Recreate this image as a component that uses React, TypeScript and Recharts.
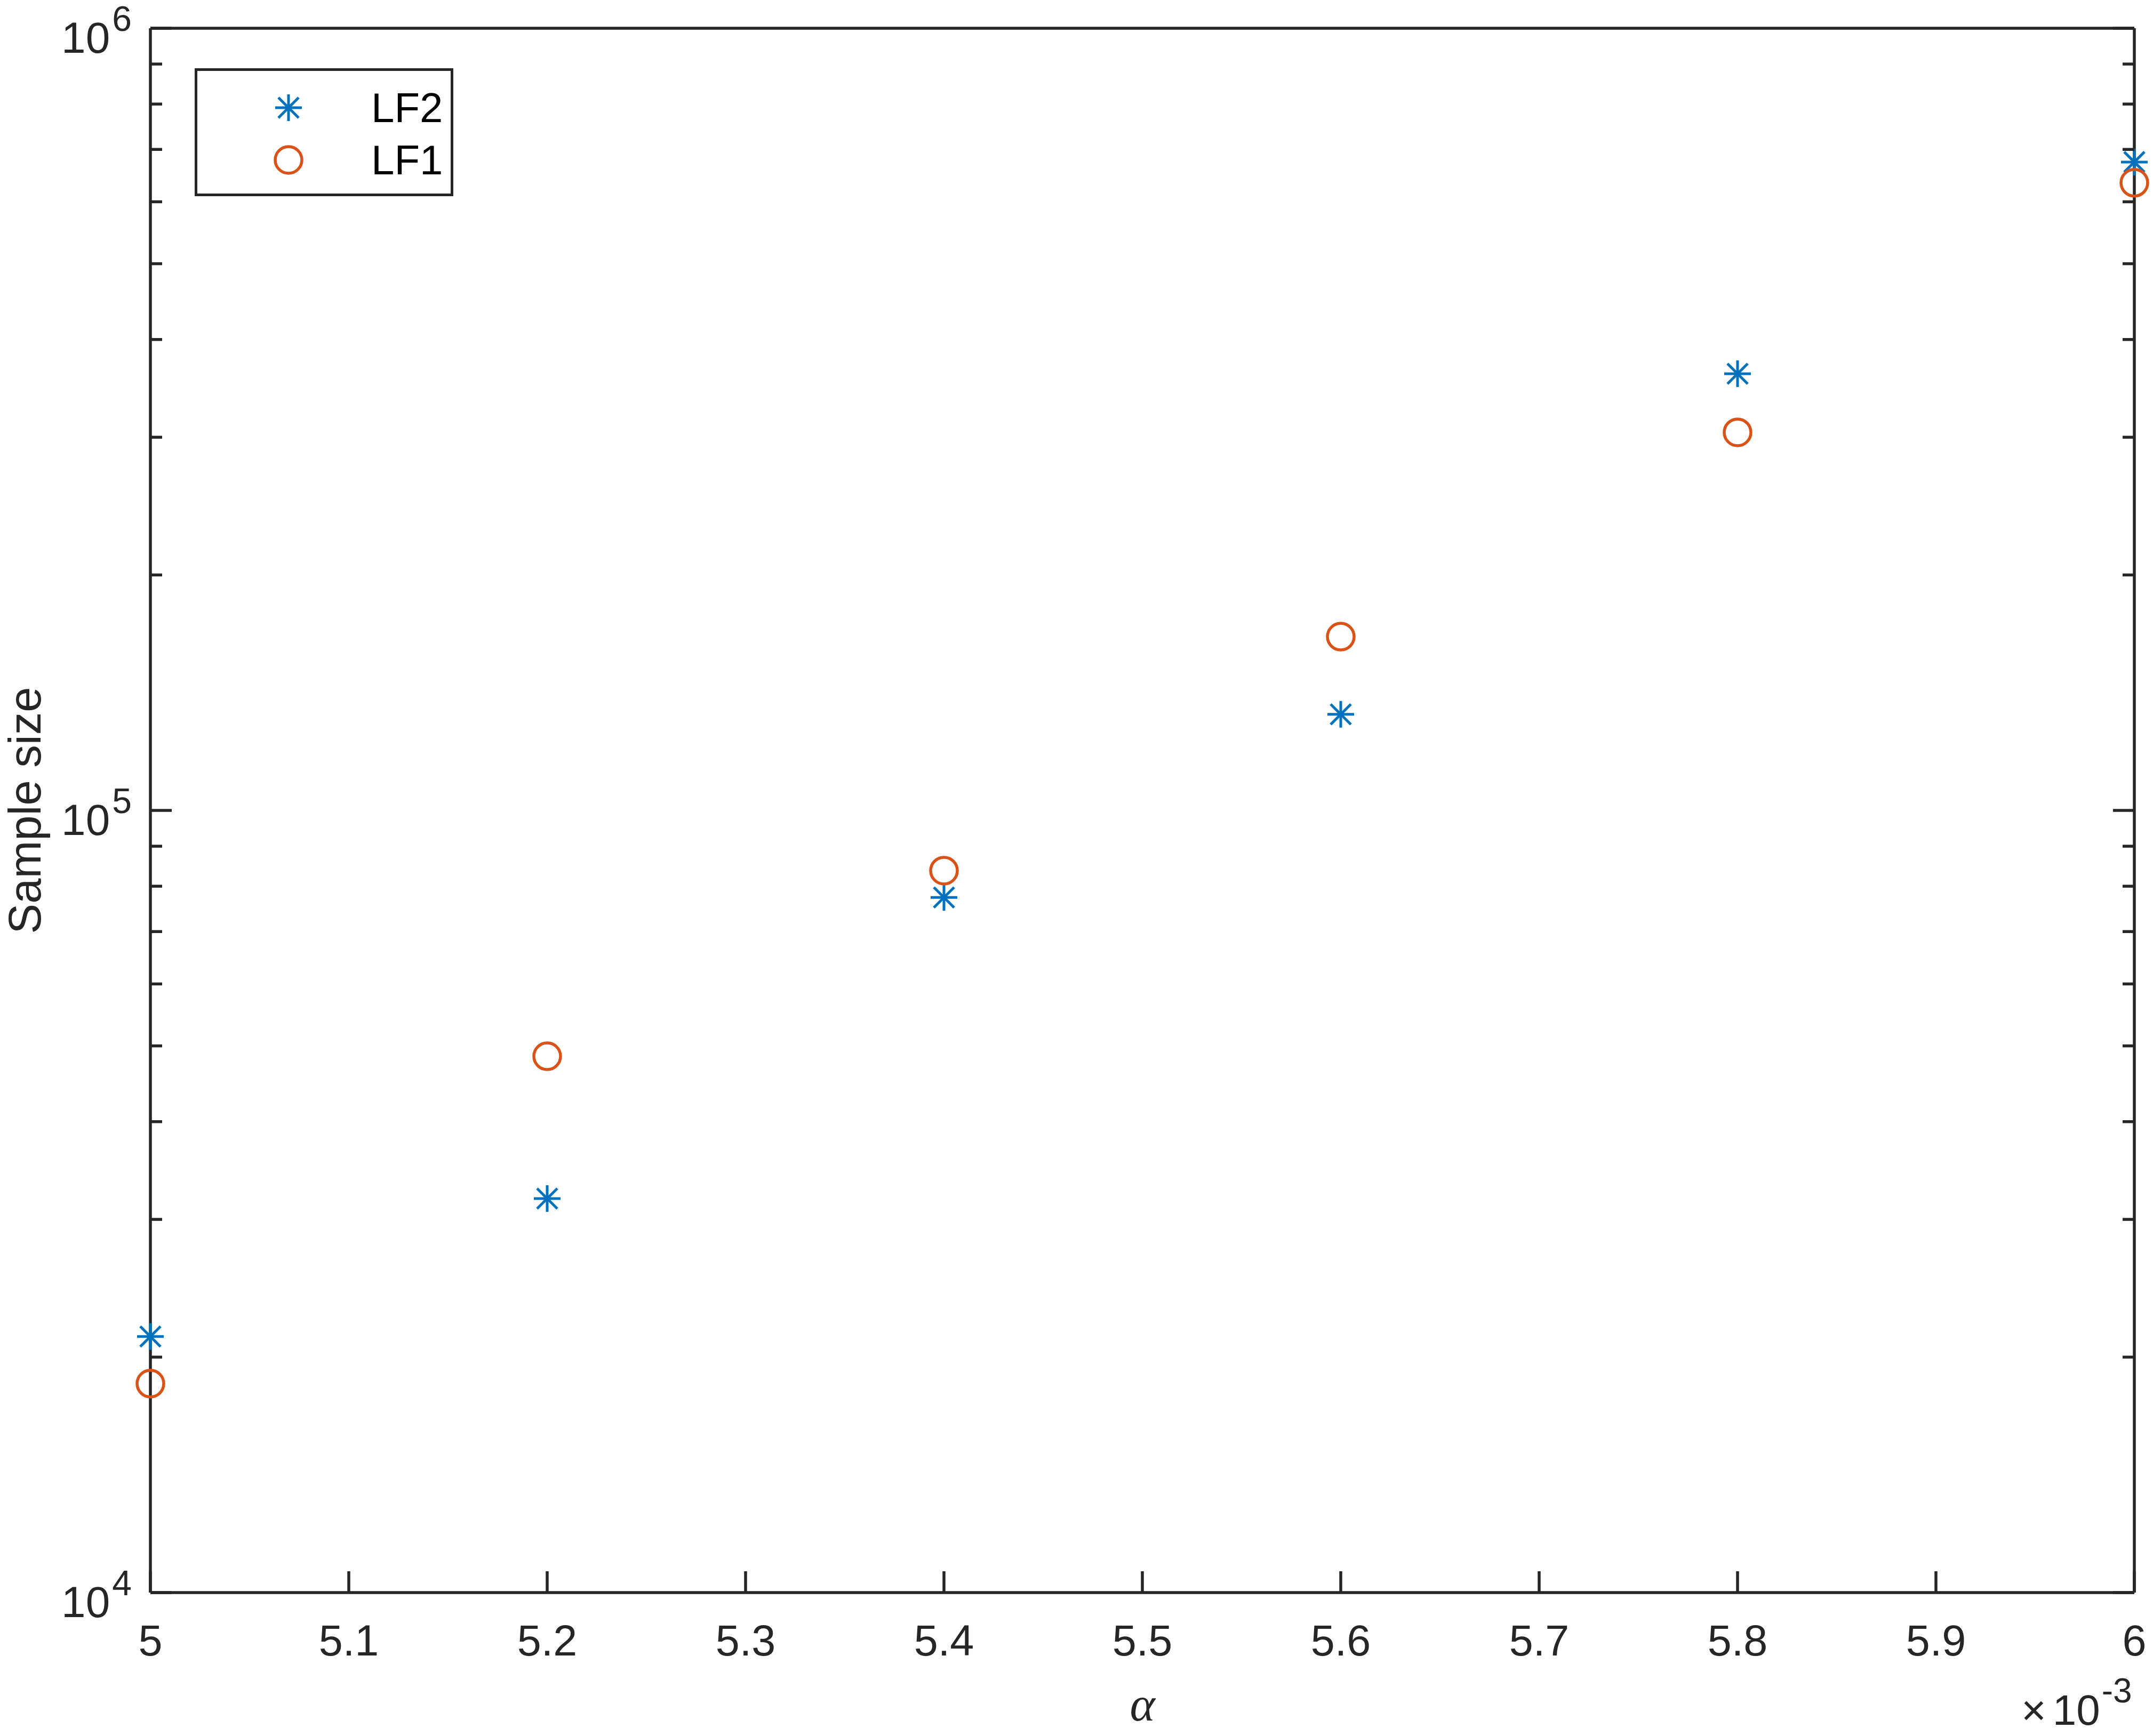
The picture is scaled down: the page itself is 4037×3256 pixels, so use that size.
import React from "react";
import { Label, Legend, Scatter, ScatterChart, XAxis, YAxis } from "recharts";

// alpha in units of 1e-3 (axis carries the ×10^-3 multiplier)
const ALPHA = [5.0, 5.2, 5.4, 5.6, 5.8, 6.0];
const LF2 = [21250, 31900, 77400, 132700, 361700, 674500];
const LF1 = [18500, 48500, 83750, 166800, 304300, 634500];
const SERIES_ORDER = ["LF2", "LF1"];

const X_TICKS = [5, 5.1, 5.2, 5.3, 5.4, 5.5, 5.6, 5.7, 5.8, 5.9, 6];
const Y_MAJOR = [1e4, 1e5, 1e6];
const Y_MINOR = [2e4, 3e4, 4e4, 5e4, 6e4, 7e4, 8e4, 9e4, 2e5, 3e5, 4e5, 5e5, 6e5, 7e5, 8e5, 9e5];
const Y_TICKS = [...Y_MAJOR, ...Y_MINOR].sort((a, b) => a - b);

const C = {
  lf2: "#0072BD",
  lf1: "#D95319",
  ink: "#262626",
};
const FONT = "'Liberation Sans', Arial, Helvetica, sans-serif";
const LW = 5.5;
const AXIS_LINE = { stroke: C.ink, strokeWidth: LW };
const MAJOR = 40;
const MINOR = 22;

const lf2Data = ALPHA.map((a, i) => ({ alpha: a, n: LF2[i] }));
const lf1Data = ALPHA.map((a, i) => ({ alpha: a, n: LF1[i] }));

const isMajor = (v: number) => Math.abs(Math.log10(v) - Math.round(Math.log10(v))) < 1e-9;
const fmtX = (v: number) => String(Number(v.toFixed(1)));

function BottomTick({ x, y, payload }: any) {
  return (
    <g>
      <line x1={x} x2={x} y1={y} y2={y - MAJOR} stroke={C.ink} strokeWidth={LW} />
      <text x={x} y={y + 118} textAnchor="middle" fontSize={81} fontFamily={FONT} fill={C.ink}>
        {fmtX(payload.value)}
      </text>
    </g>
  );
}

function TopTick({ x, y }: any) {
  return <line x1={x} x2={x} y1={y} y2={y + MAJOR} stroke={C.ink} strokeWidth={LW} />;
}

function LeftTick({ x, y, payload }: any) {
  const major = isMajor(payload.value);
  return (
    <g>
      <line x1={x} x2={x + (major ? MAJOR : MINOR)} y1={y} y2={y} stroke={C.ink} strokeWidth={LW} />
      {major && (
        <text x={x - 35} y={y + 46} textAnchor="end" fontSize={82} fontFamily={FONT} fill={C.ink}>
          10
          <tspan dx={4} dy={-41} fontSize={66}>
            {Math.round(Math.log10(payload.value))}
          </tspan>
        </text>
      )}
    </g>
  );
}

function RightTick({ x, y, payload }: any) {
  const len = isMajor(payload.value) ? MAJOR : MINOR;
  return <line x1={x} x2={x - len} y1={y} y2={y} stroke={C.ink} strokeWidth={LW} />;
}

function XLabel({ viewBox }: any) {
  const { x, y, width } = viewBox;
  return (
    <g fill={C.ink}>
      <text
        x={x + width / 2}
        y={y + 240}
        textAnchor="middle"
        fontSize={90}
        fontStyle="italic"
        fontFamily="'Liberation Serif', 'DejaVu Serif', serif"
      >
        α
      </text>
      <text x={x + width - 212} y={y + 248} fontSize={80} fontFamily={FONT}>
        ×
        <tspan dx={12}>10</tspan>
        <tspan dx={3} dy={-42} fontSize={64}>
          -3
        </tspan>
      </text>
    </g>
  );
}

function YLabel({ viewBox }: any) {
  const { x, y, height } = viewBox;
  const cx = x + 76;
  const cy = y + height / 2;
  return (
    <text
      x={cx}
      y={cy}
      transform={`rotate(-90 ${cx} ${cy})`}
      textAnchor="middle"
      fontSize={85}
      fontFamily={FONT}
      fill={C.ink}
    >
      Sample size
    </text>
  );
}

function StarMark({ cx, cy }: any) {
  return (
    <g stroke={C.lf2} strokeWidth={5}>
      <line x1={cx - 25} x2={cx + 25} y1={cy} y2={cy} />
      <line x1={cx} x2={cx} y1={cy - 25} y2={cy + 25} />
      <line x1={cx - 19} y1={cy - 19} x2={cx + 19} y2={cy + 19} />
      <line x1={cx - 19} y1={cy + 19} x2={cx + 19} y2={cy - 19} />
    </g>
  );
}

function RingMark({ cx, cy }: any) {
  return <circle cx={cx} cy={cy} r={25} fill="none" stroke={C.lf1} strokeWidth={5.5} />;
}

function LegendBox({ payload }: any) {
  const items = [...(payload ?? [])].sort(
    (a: any, b: any) => SERIES_ORDER.indexOf(a.value) - SERIES_ORDER.indexOf(b.value)
  );
  return (
    <svg width={485} height={240}>
      <rect x={2.5} y={2.5} width={480} height={235} fill="#fff" stroke={C.ink} strokeWidth={5} />
      {items.map((it: any, i: number) => {
        const cy = 74 + i * 98;
        return (
          <g key={it.value}>
            {it.value === "LF2" ? <StarMark cx={176} cy={cy} /> : <RingMark cx={176} cy={cy} />}
            <text x={331} y={cy + 27} fontSize={78} fontFamily={FONT} fill="#000">
              {it.value}
            </text>
          </g>
        );
      })}
    </svg>
  );
}

export default function App() {
  return (
    <div style={{ position: "absolute", left: 0, top: 0, width: 4037, height: 3256, background: "#fff" }}>
      <ScatterChart width={4037} height={3256} margin={{ top: 0, right: 0, bottom: 0, left: 0 }}>
        <XAxis
          dataKey="alpha"
          type="number"
          domain={[5, 6]}
          ticks={X_TICKS}
          interval={0}
          height={269}
          tickSize={0}
          tickMargin={0}
          tickLine={false}
          axisLine={AXIS_LINE}
          tick={(p: any) => <BottomTick {...p} />}
          label={<Label content={(p: any) => <XLabel {...p} />} />}
        />
        <XAxis
          xAxisId="top"
          orientation="top"
          type="number"
          domain={[5, 6]}
          allowDataOverflow
          ticks={X_TICKS}
          interval={0}
          height={53}
          tickSize={0}
          tickMargin={0}
          tickLine={false}
          axisLine={AXIS_LINE}
          tick={(p: any) => <TopTick {...p} />}
        />
        <YAxis
          dataKey="n"
          type="number"
          scale="log"
          domain={[1e4, 1e6]}
          ticks={Y_TICKS}
          interval={0}
          width={282}
          tickSize={0}
          tickMargin={0}
          tickLine={false}
          axisLine={AXIS_LINE}
          tick={(p: any) => <LeftTick {...p} />}
          label={<Label content={(p: any) => <YLabel {...p} />} />}
        />
        <YAxis
          yAxisId="right"
          orientation="right"
          type="number"
          scale="log"
          domain={[1e4, 1e6]}
          allowDataOverflow
          ticks={Y_TICKS}
          interval={0}
          width={35}
          tickSize={0}
          tickMargin={0}
          tickLine={false}
          axisLine={AXIS_LINE}
          tick={(p: any) => <RightTick {...p} />}
        />
        <Scatter name="LF2" data={lf2Data} fill={C.lf2} shape={(p: any) => <StarMark {...p} />} isAnimationActive={false} />
        <Scatter name="LF1" data={lf1Data} fill={C.lf1} shape={(p: any) => <RingMark {...p} />} isAnimationActive={false} />
        <Legend
          layout="vertical"
          align="center"
          verticalAlign="middle"
          content={(p: any) => <LegendBox {...p} />}
          wrapperStyle={{ left: 365, top: 128, width: 485, height: 240 }}
        />
      </ScatterChart>
    </div>
  );
}
